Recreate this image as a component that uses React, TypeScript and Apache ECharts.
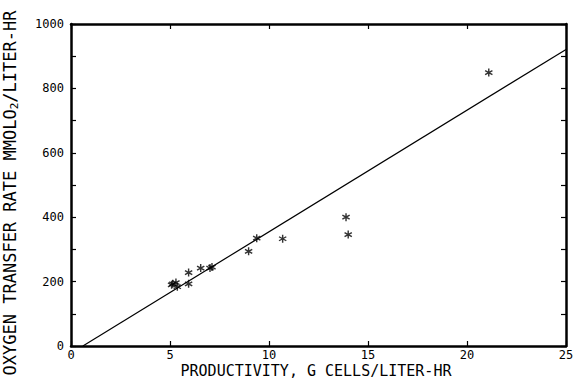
import React, { useEffect, useRef } from "react";
import * as echarts from "echarts";

const productivity = [5.08, 5.14, 5.3, 5.37, 5.94, 5.94, 6.55, 7.02, 7.12, 8.97, 9.38, 10.69, 13.89, 14.0, 21.1];
const oxygenRate = [190, 193, 197, 184, 228, 193, 242, 242, 245, 294, 335, 333, 400, 346, 849];
const fitLineX = [0.6, 25];
const fitLineY = [0, 921];
const xTitle = "PRODUCTIVITY, G CELLS/LITER-HR";
const yTitleParts = ["OXYGEN TRANSFER RATE MMOLO", "2", "/LITER-HR"];

const FONT = "'DejaVu Sans Mono', monospace";
const ASTERISK =
  "path://M8.3 0 L11.7 0 L11.7 20 L8.3 20 Z M17.81 3.53 L19.51 6.47 L2.19 16.47 L0.49 13.53 Z M19.51 13.53 L17.81 16.47 L0.49 6.47 L2.19 3.53 Z";

export default function App() {
  const ref = useRef<HTMLDivElement>(null);
  useEffect(() => {
    if (!ref.current) return;
    const chart = echarts.init(ref.current, null, { renderer: "svg" });
    const axisLine = { show: true, onZero: false, lineStyle: { color: "#000", width: 2.5 } };
    const tick = (len: number) => ({ show: true, inside: true, length: len, lineStyle: { color: "#000", width: 1.2 } });
    chart.setOption({
      animation: false,
      backgroundColor: "#fff",
      grid: { left: 71, top: 24, right: 11, bottom: 35 },
      xAxis: [
        {
          type: "value",
          min: 0,
          max: 25,
          interval: 5,
          position: "bottom",
          axisLine,
          axisTick: tick(5),
          splitLine: { show: false },
          axisLabel: { color: "#000", fontFamily: FONT, fontSize: 12, margin: 3, lineHeight: 12 },
        },
        {
          type: "value",
          min: 0,
          max: 25,
          interval: 5,
          position: "top",
          axisLine,
          axisTick: tick(5),
          splitLine: { show: false },
          axisLabel: { show: false },
        },
      ],
      yAxis: [
        {
          type: "value",
          min: 0,
          max: 1000,
          interval: 100,
          position: "left",
          axisLine,
          axisTick: tick(5),
          splitLine: { show: false },
          axisLabel: {
            color: "#000",
            fontFamily: FONT,
            fontSize: 12,
            margin: 7,
            formatter: (v: number) => (v % 200 === 0 ? String(v) : ""),
          },
        },
        {
          type: "value",
          min: 0,
          max: 1000,
          interval: 100,
          position: "right",
          axisLine,
          axisTick: tick(5),
          splitLine: { show: false },
          axisLabel: { show: false },
        },
      ],
      graphic: [
        {
          type: "text",
          x: 316,
          y: 371,
          style: {
            text: xTitle,
            font: `15px ${FONT}`,
            lineHeight: 15,
            fill: "#000",
            align: "center",
            verticalAlign: "middle",
          },
        },
        {
          type: "text",
          x: 10,
          y: 193,
          rotation: Math.PI / 2,
          style: {
            text: `{a|${yTitleParts[0]}}{s|${yTitleParts[1]}}{a|${yTitleParts[2]}}`,
            fill: "#000",
            align: "center",
            verticalAlign: "middle",
            rich: {
              a: { fontFamily: FONT, fontSize: 17, fill: "#000" },
              s: { fontFamily: FONT, fontSize: 11, fill: "#000", padding: [9, 0, 0, 0] },
            },
          },
        },
      ],
      series: [
        {
          type: "line",
          data: fitLineX.map((x, i) => [x, fitLineY[i]]),
          showSymbol: false,
          lineStyle: { color: "#000", width: 1.2 },
          silent: true,
        },
        {
          type: "scatter",
          data: productivity.map((x, i) => [x, oxygenRate[i]]),
          symbol: ASTERISK,
          symbolSize: 8,
          itemStyle: { color: "#000" },
        },
      ],
    });
    return () => chart.dispose();
  }, []);
  return <div ref={ref} style={{ width: 577, height: 381, position: "absolute", left: 0, top: 0 }} />;
}
